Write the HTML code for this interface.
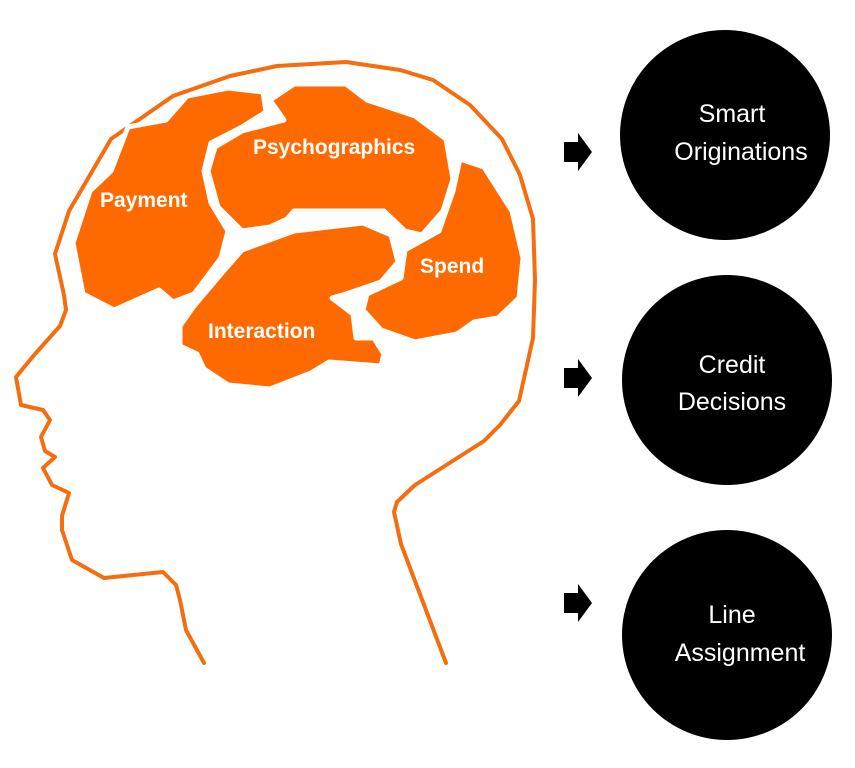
<!DOCTYPE html>
<html><head><meta charset="utf-8"><style>
html,body{margin:0;padding:0;background:#fff;width:855px;height:768px;overflow:hidden}
text{font-family:"Liberation Sans",sans-serif}
</style></head><body>
<svg width="855" height="768" viewBox="0 0 855 768" xmlns="http://www.w3.org/2000/svg">
<polyline fill="none" stroke="#f46d0e" stroke-width="4" stroke-linejoin="round" stroke-linecap="round"
points="204,663 186,630 180,600 176,585 163,572 104,578 72,560 62,530 62,516 69,493 52,485 43,468 55,457 45,451 41,437 50,420 43,410 21,405 16,377 35,354 60,326 66,310 64,295 55,254 69,211 111,139 173,96 230,76 277,66 346,62 400,70 433,80 470,105 502,139 520,175 533,219 535,280 533,338 519,401 500,425 484,441 415,485 397,502 394,512 401,544 446,663"/>
<g fill="#ff6a00" stroke="#fff" stroke-width="5" stroke-linejoin="round">
<polygon points="111,171 128,127 166,120 187,96 228,88 263,92 266,112 242,127 211,143 204,171 211,203 228,231 221,258 194,294 173,302 159,290 114,310 83,294 73,243 90,191"/>
<polygon points="270,100 294,84 346,84 367,100 415,116 446,139 453,179 443,211 422,235 405,231 384,211 294,211 287,219 270,227 242,231 218,207 208,171 215,147 242,131 284,120"/>
<polygon points="460,159 484,167 512,211 523,258 519,298 498,318 474,322 457,334 415,342 381,330 363,310 367,294 401,278 405,250 439,231 453,191"/>
<polygon points="221,274 242,250 294,231 363,223 391,235 398,262 381,282 346,294 332,298 353,314 356,338 374,338 384,354 381,366 329,362 311,373 270,389 228,385 204,369 197,354 180,346 180,326 194,306"/>
</g>
<g fill="#fff" font-weight="bold" font-size="21">
<text x="100" y="207">Payment</text>
<text x="253" y="154">Psychographics</text>
<text x="420" y="273">Spend</text>
<text x="208" y="338">Interaction</text>
</g>
<g fill="#000">
<circle cx="725" cy="135" r="105"/>
<circle cx="727" cy="380" r="105"/>
<circle cx="727" cy="635" r="105"/>
<polygon points="564,142 578,142 578,133 592,152 578,171 578,162 564,162"/>
<polygon points="564,368 578,368 578,359 592,378 578,397 578,388 564,388"/>
<polygon points="564,593 578,593 578,584 592,603 578,622 578,613 564,613"/>
</g>
<g fill="#fff" font-size="25" text-anchor="middle">
<text x="732" y="122">Smart</text>
<text x="741" y="160">Originations</text>
<text x="732" y="373">Credit</text>
<text x="732" y="410">Decisions</text>
<text x="732" y="623">Line</text>
<text x="740" y="661">Assignment</text>
</g>
</svg>
</body></html>
